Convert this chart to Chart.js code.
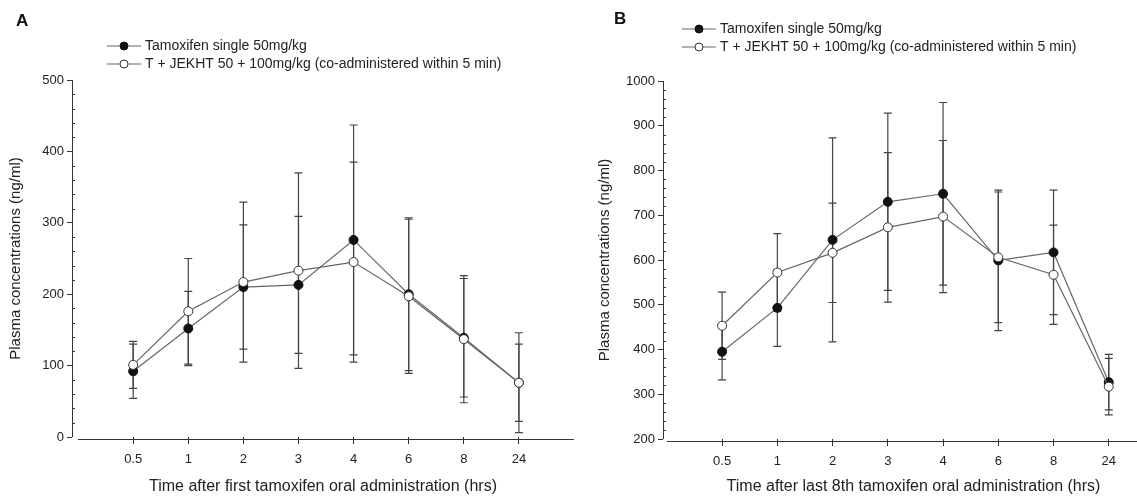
<!DOCTYPE html>
<html>
<head>
<meta charset="utf-8">
<script src="https://cdn.jsdelivr.net/npm/chart.js@4.4.1/dist/chart.umd.min.js"></script>
<style>
  html, body { margin: 0; padding: 0; background: #fff; overflow: hidden; }
  #wrap { position: relative; width: 1137px; height: 498px; overflow: hidden; }
  canvas { position: absolute; top: 0; }
  #chartA { left: 0; }
  #chartB { left: 590px; }
  .panel { position: absolute; font: bold 17px "Liberation Sans", Arial, sans-serif; color: #111; }
</style>
</head>
<body>
<div id="wrap">
  <canvas id="chartA" width="580" height="498"></canvas>
  <canvas id="chartB" width="580" height="498"></canvas>
  <div class="panel" style="left:16px;top:11px">A</div>
  <div class="panel" style="left:614px;top:9px">B</div>
</div>
<script>
// sampling times (hrs)
const timeLabels = ["0.5", "1", "2", "3", "4", "6", "8", "24"];
const seriesNames = ["Tamoxifen single 50mg/kg", "T + JEKHT 50 + 100mg/kg (co-administered within 5 min)"];

// A: after first tamoxifen dose (ng/ml, mean and SD)
const tamFirst = [92, 152, 210, 213, 276, 200, 139, 76];
const tamFirstSd = [38, 52, 87, 96, 161, 107, 83, 54];
const comboFirst = [101, 176, 217, 233, 245, 197, 137, 76];
const comboFirstSd = [33, 74, 112, 137, 140, 108, 89, 70];

// B: after last (8th) tamoxifen dose
const tamLast = [395, 493, 645, 730, 748, 599, 617, 327];
const tamLastSd = [63, 86, 228, 198, 204, 157, 139, 62];
const comboLast = [453, 572, 616, 673, 697, 606, 567, 317];
const comboLastSd = [75, 87, 111, 167, 170, 146, 111, 63];

const yTicksA = { min: 0, max: 500, step: 100, minor: 20 };
const yTicksB = { min: 200, max: 1000, step: 100, minor: 20 };

const FONT = '"Liberation Sans", Arial, sans-serif';
const NARROW = '"Liberation Sans Narrow", "Liberation Sans", Arial, sans-serif';
const INK = "#222";

// x titles in the figure are about 352px wide; pick a size that gets there
const probe = document.createElement("canvas").getContext("2d");
probe.font = "15px " + NARROW;
const probeW = probe.measureText("Time after first tamoxifen oral administration (hrs)").width;
const xTitleSize = Math.round(15 * 352 / probeW * 2) / 2;

function toPoints(arr) {
  return arr.map((v, i) => ({ x: i, y: v }));
}

// error bars, offset axis lines, minor ticks and the legend
const sigmaStyle = {
  id: "sigmaStyle",
  beforeDatasetsDraw(chart) {
    const ctx = chart.ctx;
    const xs = chart.scales.x, ys = chart.scales.y;
    ctx.save();
    ctx.strokeStyle = "#444";
    ctx.lineWidth = 1.2;
    chart.data.datasets.forEach(ds => {
      ds.data.forEach((p, i) => {
        const sd = ds.sd[i];
        const x = xs.getPixelForValue(p.x);
        const yTop = ys.getPixelForValue(p.y + sd);
        const yBot = ys.getPixelForValue(p.y - sd);
        ctx.beginPath();
        ctx.moveTo(x, yTop); ctx.lineTo(x, yBot);
        ctx.moveTo(x - 4, yTop); ctx.lineTo(x + 4, yTop);
        ctx.moveTo(x - 4, yBot); ctx.lineTo(x + 4, yBot);
        ctx.stroke();
      });
    });
    ctx.restore();
  },
  afterDraw(chart, args, opts) {
    const ctx = chart.ctx;
    const xs = chart.scales.x, ys = chart.scales.y;
    const area = chart.chartArea;
    ctx.save();
    ctx.strokeStyle = "#333";
    ctx.lineWidth = 1;
    // y axis line
    ctx.beginPath();
    ctx.moveTo(area.left + 0.5, ys.getPixelForValue(opts.yMax));
    ctx.lineTo(area.left + 0.5, ys.getPixelForValue(opts.yMin));
    // x axis line, detached from the y axis
    ctx.moveTo(xs.getPixelForValue(-1), area.bottom + 2.5);
    ctx.lineTo(xs.getPixelForValue(8), area.bottom + 2.5);
    ctx.stroke();
    // minor ticks
    ctx.beginPath();
    for (let v = opts.yMin; v <= opts.yMax; v += opts.minor) {
      if (v % opts.step === 0) continue;
      const y = Math.round(ys.getPixelForValue(v)) + 0.5;
      ctx.moveTo(area.left, y);
      ctx.lineTo(area.left + 3, y);
    }
    ctx.stroke();

    // legend
    ctx.font = "14px " + FONT;
    ctx.textBaseline = "middle";
    chart.data.datasets.forEach((ds, k) => {
      const y = opts.legendY[k];
      const x0 = opts.legendX;
      ctx.strokeStyle = ds.borderColor;
      ctx.lineWidth = 1.2;
      ctx.beginPath();
      ctx.moveTo(x0, y); ctx.lineTo(x0 + 34, y);
      ctx.stroke();
      ctx.beginPath();
      ctx.arc(x0 + 17, y, 4, 0, Math.PI * 2);
      ctx.fillStyle = ds.pointBackgroundColor;
      ctx.fill();
      ctx.strokeStyle = ds.pointBorderColor;
      ctx.lineWidth = 1;
      ctx.stroke();
      ctx.fillStyle = INK;
      ctx.fillText(ds.label, x0 + 38, y);
    });
    ctx.restore();
  }
};

function makeChart(canvasId, tam, tamSd, combo, comboSd, yInfo, layout) {
  return new Chart(document.getElementById(canvasId), {
    type: "line",
    data: {
      datasets: [
        {
          label: seriesNames[0],
          data: toPoints(tam),
          sd: tamSd,
          borderColor: "#666",
          borderWidth: 1.2,
          pointRadius: 4.5,
          pointBackgroundColor: "#111",
          pointBorderColor: "#111",
          pointBorderWidth: 1,
          order: 2
        },
        {
          label: seriesNames[1],
          data: toPoints(combo),
          sd: comboSd,
          borderColor: "#666",
          borderWidth: 1.2,
          pointRadius: 4.5,
          pointBackgroundColor: "#fff",
          pointBorderColor: "#333",
          pointBorderWidth: 1,
          order: 1
        }
      ]
    },
    options: {
      responsive: false,
      animation: false,
      devicePixelRatio: 1,
      clip: false,
      layout: { padding: { top: layout.top, right: layout.right, left: 0, bottom: 0 } },
      plugins: {
        legend: { display: false },
        tooltip: { enabled: false },
        sigmaStyle: {
          yMin: yInfo.min, yMax: yInfo.max, step: yInfo.step, minor: yInfo.minor,
          legendX: layout.legendX, legendY: layout.legendY
        }
      },
      scales: {
        x: {
          type: "linear",
          min: layout.xMin,
          max: 8,
          afterBuildTicks: scale => { scale.ticks = timeLabels.map((_, i) => ({ value: i })); },
          afterFit: scale => { scale.height = 498 - layout.bottom; },
          border: { display: false },
          grid: { drawOnChartArea: false, drawTicks: true, tickLength: 7, tickColor: "#333" },
          ticks: {
            autoSkip: false,
            maxRotation: 0,
            padding: 8,
            color: INK,
            font: { family: NARROW, size: 13 },
            callback: v => timeLabels[v]
          },
          title: {
            display: true,
            text: layout.xTitle,
            color: INK,
            font: { family: NARROW, size: xTitleSize },
            padding: { top: 0, bottom: 2 }
          }
        },
        y: {
          min: yInfo.min,
          max: yInfo.max,
          afterFit: scale => { scale.width = layout.left; },
          border: { display: false },
          grid: { drawOnChartArea: false, drawTicks: true, tickLength: 5, tickColor: "#333" },
          ticks: {
            stepSize: yInfo.step,
            padding: 3,
            color: INK,
            font: { family: FONT, size: 13 },
            callback: v => String(v)
          },
          title: {
            display: true,
            text: "Plasma concentrations (ng/ml)",
            color: INK,
            font: { family: FONT, size: 15 },
            padding: { top: layout.yTitlePad, bottom: 0 }
          }
        }
      }
    },
    plugins: [sigmaStyle]
  });
}

makeChart("chartA", tamFirst, tamFirstSd, comboFirst, comboFirstSd, yTicksA, {
  left: 72, top: 80, right: 6, bottom: 437, xMin: -1.11,
  legendX: 107, legendY: [46, 64], yTitlePad: 7,
  xTitle: "Time after first tamoxifen oral administration (hrs)"
});

makeChart("chartB", tamLast, tamLastSd, comboLast, comboLastSd, yTicksB, {
  left: 73, top: 81, right: 6, bottom: 439, xMin: -1.07,
  legendX: 92, legendY: [29, 47], yTitlePad: 6,
  xTitle: "Time after last 8th tamoxifen oral administration (hrs)"
});
</script>
</body>
</html>
